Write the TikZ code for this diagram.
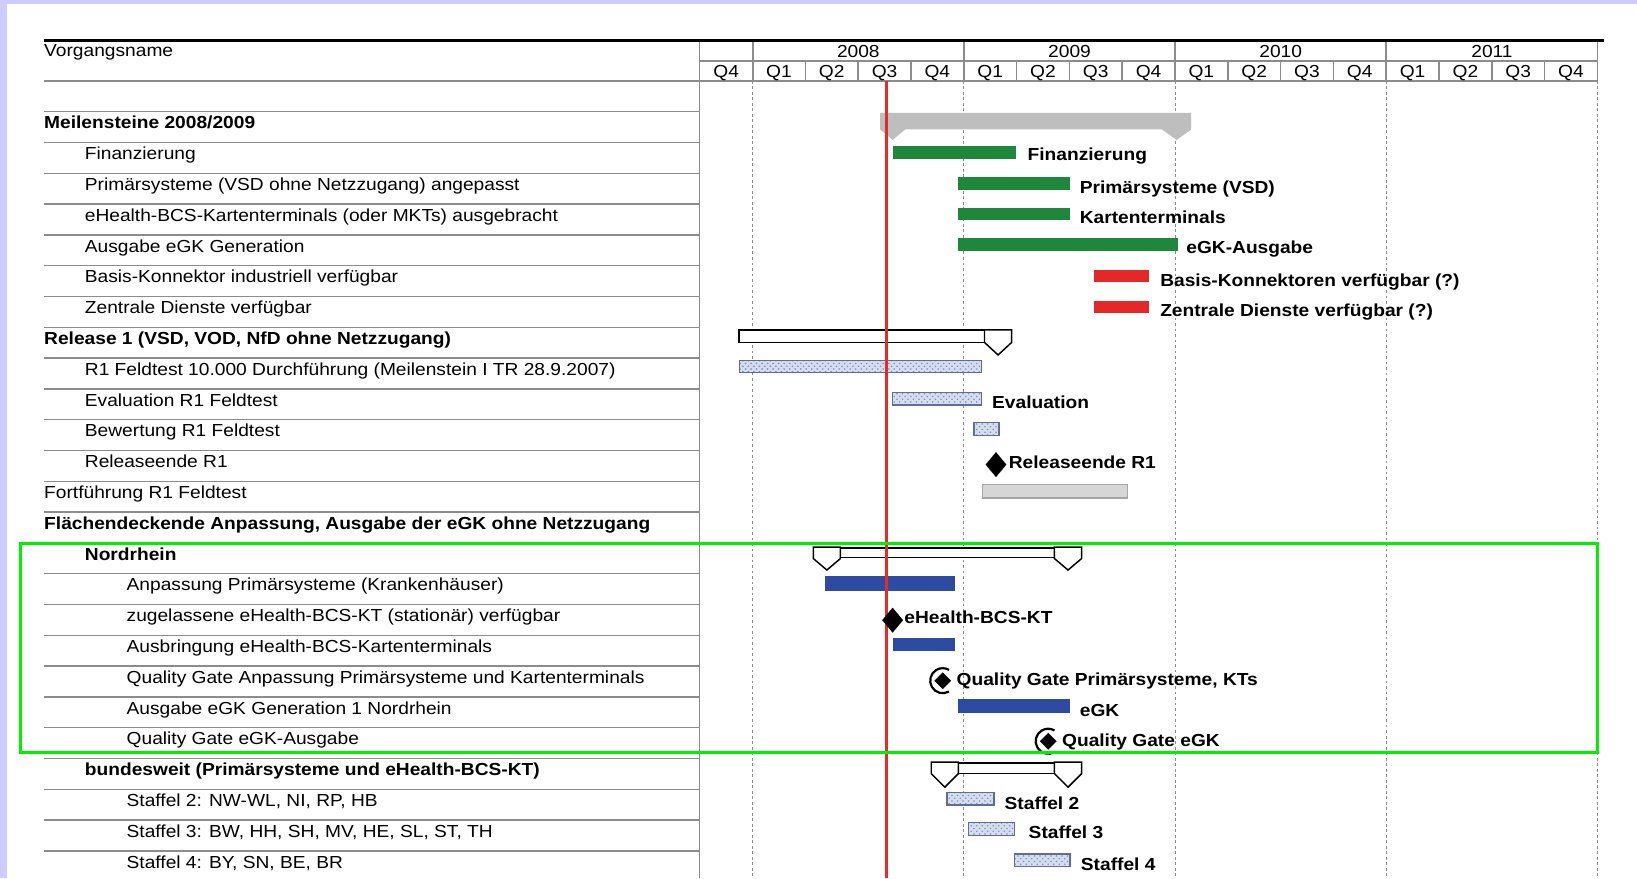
\documentclass[tikz,border=0pt]{standalone}
\usepackage{fontspec}
\usetikzlibrary{patterns}
\newfontfamily\ganttfont[FakeStretch=1.1]{Liberation Sans}
\definecolor{lavender}{RGB}{204,204,255}
\definecolor{msgreen}{RGB}{30,135,60}
\definecolor{msred}{RGB}{228,40,40}
\definecolor{msblue}{RGB}{45,75,160}
\definecolor{sumgray}{RGB}{190,190,190}
\definecolor{hatchfill}{RGB}{212,222,242}
\definecolor{hatchline}{RGB}{95,110,145}
\definecolor{gridgray}{RGB}{140,140,140}
\definecolor{framegreen}{RGB}{0,240,0}
\definecolor{todayred}{RGB}{225,45,40}
\tikzset{
  txt/.style={anchor=base west, inner sep=0pt, font=\ganttfont\fontsize{9.5}{11}\selectfont},
  lbl/.style={txt, font=\ganttfont\fontsize{9.5}{11}\selectfont\bfseries},
  hdr/.style={anchor=base, inner sep=0pt, font=\ganttfont\fontsize{9.5}{11}\selectfont},
  rowline/.style={draw=gridgray, line width=0.8pt},
  hatched/.style={draw=hatchline, line width=0.7pt, preaction={fill=hatchfill},
    pattern=crosshatch dots, pattern color=hatchline!75},
  sumend/.style={draw=black, line width=0.8pt, fill=white},
}
\begin{document}
\begin{tikzpicture}[x=0.02cm, y=-0.02cm]
  \useasboundingbox (0,0) rectangle (1568,841);
  %background
  \fill[lavender] (0,0) rectangle (1568,841);
  \fill[white] (7,4) rectangle (1568,841);

  %table rows
  \foreach \k in {0,...,24}
    \draw[rowline] (42,{107+29.5*\k}) -- (670,{107+29.5*\k});
  \foreach \k/\ind/\txt in {
      0/42/{\bfseries Meilensteine 2008/2009},
      1/81/{Finanzierung},
      2/81/{Primärsysteme (VSD ohne Netzzugang) angepasst},
      3/81/{eHealth-BCS-Kartenterminals (oder MKTs) ausgebracht},
      4/81/{Ausgabe eGK Generation},
      5/81/{Basis-Konnektor industriell verfügbar},
      6/81/{Zentrale Dienste verfügbar},
      7/42/{\bfseries Release 1 (VSD, VOD, NfD ohne Netzzugang)},
      8/81/{R1 Feldtest 10.000 Durchführung (Meilenstein I TR 28.9.2007)},
      9/81/{Evaluation R1 Feldtest},
      10/81/{Bewertung R1 Feldtest},
      11/81/{Releaseende R1},
      12/42/{Fortführung R1 Feldtest},
      13/42/{\bfseries Flächendeckende Anpassung, Ausgabe der eGK ohne Netzzugang},
      14/81/{\bfseries Nordrhein},
      15/121/{Anpassung Primärsysteme (Krankenhäuser)},
      16/121/{zugelassene eHealth-BCS-KT (stationär) verfügbar},
      17/121/{Ausbringung eHealth-BCS-Kartenterminals},
      18/121/{Quality Gate Anpassung Primärsysteme und Kartenterminals},
      19/121/{Ausgabe eGK Generation 1 Nordrhein},
      20/121/{Quality Gate eGK-Ausgabe},
      21/81/{\bfseries bundesweit (Primärsysteme und eHealth-BCS-KT)},
      22/121/{Staffel 2: NW-WL, NI, RP, HB},
      23/121/{Staffel 3: BW, HH, SH, MV, HE, SL, ST, TH},
      24/121/{Staffel 4: BY, SN, BE, BR}}
    \node[txt] (row\k) at (\ind,{123.5+29.5*\k}) {\txt};

  %header
  \node[txt] (vorgang) at (42,54.5) {Vorgangsname};
  \draw[gridgray, line width=1.4pt] (42,77.5) -- (1530,77.5);
  \draw[gridgray, line width=0.8pt] (670,58.5) -- (1530,58.5);
  \draw[gridgray, line width=1pt] (670,38.5) -- (670,841);
  \foreach \i in {1,...,16}
    \draw[gridgray, line width=0.8pt] ({670.25+50.575*\i},58.5) -- ({670.25+50.575*\i},77.5);
  \foreach \j in {0,...,4}
    \draw[gridgray, line width=1pt] ({721+202.3*\j},38.5) -- ({721+202.3*\j},77.5);
  \draw[black, line width=1.7pt] (42,38.5) -- (1536,38.5);
  \foreach \yr [count=\j from 0] in {2008,2009,2010,2011}
    \node[hdr] (y\yr) at ({721+202.3*(\j+0.5)},55.5) {\yr};
  \foreach \q [count=\i from 0] in {Q4,Q1,Q2,Q3,Q4,Q1,Q2,Q3,Q4,Q1,Q2,Q3,Q4,Q1,Q2,Q3,Q4}
    \node[hdr] (q\i) at ({670.25+50.575*(\i+0.5)},74) {\q};

  %year grid
  \foreach \j in {0,...,4}
    \draw[gridgray, line width=0.6pt, dash pattern=on 1.5pt off 1.5pt]
      ({721+202.3*\j},77.5) -- ({721+202.3*\j},841);

  %summary bars
  \fill[sumgray] (843,108) -- (1141,108) -- (1141,124) -- (1127,134) -- (1113,124)
    -- (867,124) -- (855,134) -- (843,124) -- cycle;
  \draw[sumend] (708,316) rectangle (956,328);
  \draw[sumend] (792,525) rectangle (1023,534);
  \draw[sumend] (905,731) rectangle (1023,741);
  \foreach \t/\ya/\yb/\yc in {956/316/328/340, 792/524/535/546, 1023/524/535/546,
      905/730/741/754, 1023/730/741/754}
    \draw[sumend] ({\t-13},\ya) -- ({\t+13},\ya) -- ({\t+13},\yb) -- (\t,\yc)
      -- ({\t-13},\yb) -- cycle;

  %task bars
  \foreach \xa/\ya/\xb/\yb in {855/140/973/152, 918/170/1025/182, 918/199/1025/211, 918/228/1128/240}
    \fill[msgreen] (\xa,\ya) rectangle (\xb,\yb);
  \foreach \xa/\ya/\xb/\yb in {1048/259/1101/270, 1048/288/1101/300}
    \fill[msred] (\xa,\ya) rectangle (\xb,\yb);
  \foreach \xa/\ya/\xb/\yb in {790/552/915/566, 855/611/915/624, 918/670/1025/683}
    \fill[msblue] (\xa,\ya) rectangle (\xb,\yb);
  \foreach \xa/\ya/\xb/\yb in {708/345/940/357, 855/376/940/388, 933/405/957/417,
      907/759/952/771, 928/788/972/800, 972/818/1025/830}
    \draw[hatched] (\xa,\ya) rectangle (\xb,\yb);
  \draw[fill=black!16, draw=black!35, line width=0.6pt] (941,464) rectangle (1080,477);

  %today
  \draw[todayred, line width=1.4pt] (849,77.5) -- (849,841);

  %milestones
  \foreach \x/\y in {954/445, 855/594}
    \fill ({\x-10},\y) -- (\x,{\y-12}) -- ({\x+10},\y) -- (\x,{\y+12}) -- cycle;
  \foreach \x/\y in {903/652, 1004/710} {
    \fill ({\x-8},\y) -- (\x,{\y-8}) -- ({\x+8},\y) -- (\x,{\y+8}) -- cycle;
    \draw[line width=1.2pt] (\x,\y) ++(60:12) arc[start angle=60, end angle=300, radius=12];
  }

  %bar labels
  \node[lbl] (finanz) at (984,154) {Finanzierung};
  \node[lbl] (prim) at (1034,185) {Primärsysteme (VSD)};
  \node[lbl] (karten) at (1034,214) {Kartenterminals};
  \node[lbl] (egkaus) at (1136,243) {eGK-Ausgabe};
  \node[lbl] (basis) at (1111,274) {Basis-Konnektoren verfügbar (?)};
  \node[lbl] (zentral) at (1111,303) {Zentrale Dienste verfügbar (?)};
  \node[lbl] (eval) at (950,391) {Evaluation};
  \node[lbl] (relende) at (966,449) {Releaseende R1};
  \node[lbl] (ehbcs) at (866,597) {eHealth-BCS-KT};
  \node[lbl] (qgprim) at (916,657) {Quality Gate Primärsysteme, KTs};
  \node[lbl] (egk) at (1034,686) {eGK};
  \node[lbl] (qgegk) at (1017,715) {Quality Gate eGK};
  \node[lbl] (st2) at (962,775) {Staffel 2};
  \node[lbl] (st3) at (985,803) {Staffel 3};
  \node[lbl] (st4) at (1035,834) {Staffel 4};

  %focus frame
  \draw[framegreen, line width=1.7pt] (20,521) rectangle (1530,721);
\end{tikzpicture}
\end{document}
